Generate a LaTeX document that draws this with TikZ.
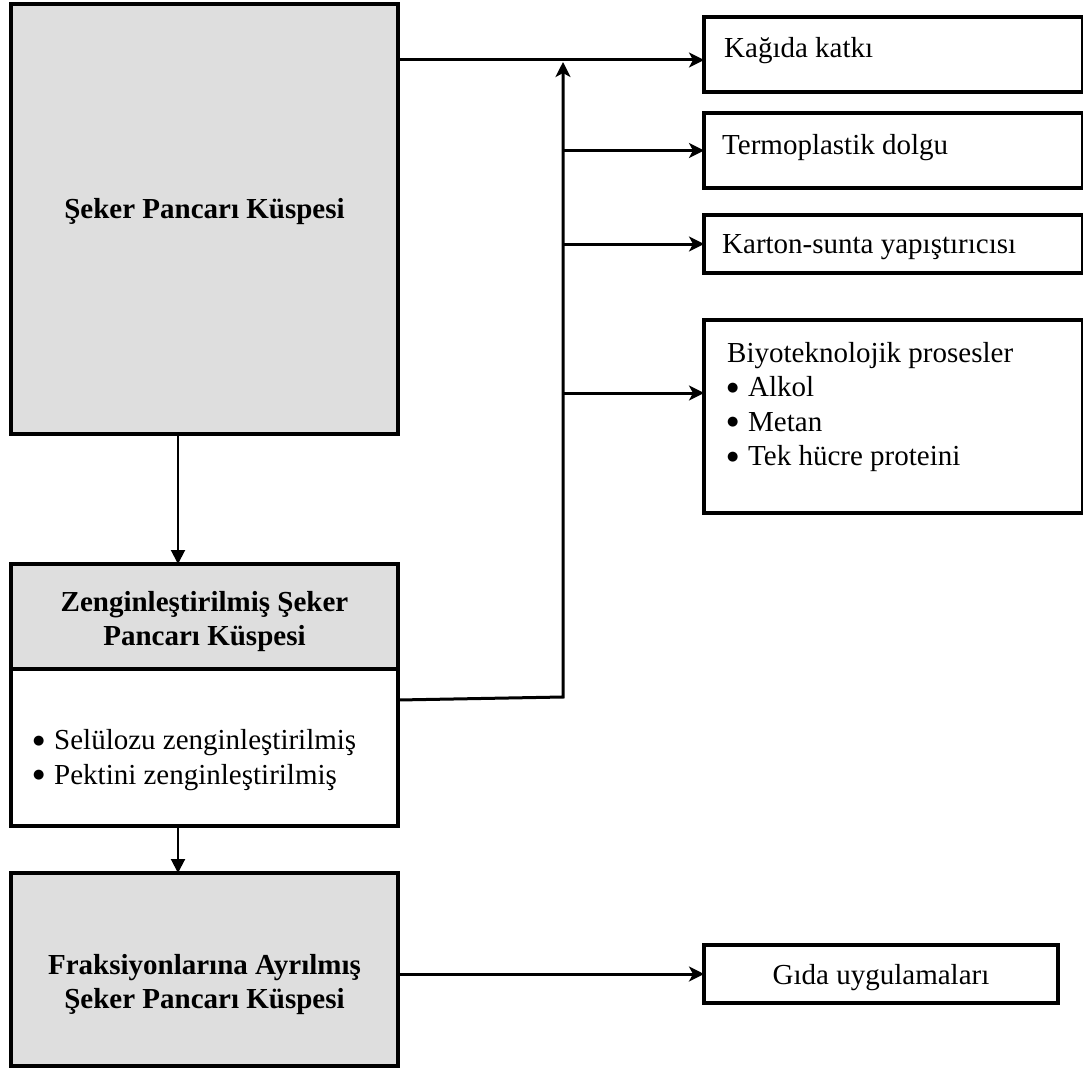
\documentclass[tikz,border=0pt]{standalone}
\usepackage{fontspec}
\setmainfont{Liberation Serif}
\newfontfamily\symfont{DejaVu Sans}
\usetikzlibrary{arrows.meta}
\definecolor{boxgray}{HTML}{DEDEDE}
\newcommand{\mybul}{\makebox[21pt][l]{\raisebox{5.5pt}{\symfont\fontsize{13}{13}\selectfont ●}}}
\begin{document}
\begin{tikzpicture}[x=1pt,y=-1pt,
  box/.style={draw, line width=4pt, inner sep=0pt, outer sep=0pt, anchor=north west},
  graybox/.style={box, fill=boxgray},
  txt/.style={inner sep=0pt, font=\fontsize{29}{34.5}\selectfont},
  btxt/.style={inner sep=0pt, font=\fontsize{29}{34}\selectfont\bfseries, align=center},
  harrow/.style={line width=3pt, -{Stealth[length=15pt,width=15pt,inset=4pt]}},
  varrow/.style={line width=2pt, -{Triangle[length=14pt,width=14pt]}}
]
\useasboundingbox (0,0) rectangle (1083,1070);

% left column
\node[graybox, minimum width=387pt, minimum height=430pt] (A) at (11,4) {};
\node[btxt, anchor=base] (At) at (204.5,218) {Şeker Pancarı Küspesi};

\node[graybox, minimum width=387pt, minimum height=105pt] (Bg) at (11,564) {};
\node[btxt] (Bt) at (204.5,622) {Zenginleştirilmiş Şeker\\Pancarı Küspesi};
\node[box, fill=white, minimum width=387pt, minimum height=157pt] (Bw) at (11,669) {};
\node[txt, anchor=west, align=left] (Bl) at (33,760)
  {\mybul Selülozu zenginleştirilmiş\\\mybul Pektini zenginleştirilmiş};

\node[graybox, minimum width=387pt, minimum height=193pt] (C) at (11,873) {};
\node[btxt] (Ct) at (204.5,985) {Fraksiyonlarına Ayrılmış\\Şeker Pancarı Küspesi};

% right column
\node[box, minimum width=379pt, minimum height=75pt] (K1) at (704,17) {};
\node[txt, anchor=base west] (K1t) at (724,58) {Kağıda katkı};

\node[box, minimum width=379pt, minimum height=75pt] (K2) at (704,113) {};
\node[txt, anchor=base west] (K2t) at (722,154) {Termoplastik dolgu};

\node[box, minimum width=379pt, minimum height=58pt] (K3) at (704,215) {};
\node[txt, anchor=base west] (K3t) at (722,253) {Karton-sunta yapıştırıcısı};

\node[box, minimum width=379pt, minimum height=193pt] (K4) at (704,320) {};
\node[txt, anchor=west, align=left] (K4t) at (727,407)
  {Biyoteknolojik prosesler\\\mybul Alkol\\\mybul Metan\\\mybul Tek hücre proteini};

\node[box, minimum width=354pt, minimum height=58pt] (G) at (704,945) {};
\node[txt, anchor=base] (Gt) at (881,984) {Gıda uygulamaları};

% helper coordinates
\coordinate (xa) at (178,0);
\coordinate (y60) at (0,60);
\coordinate (yts) at (0,700);
\coordinate (tb) at (563,697);
\coordinate (tt) at (563,62);
\coordinate (y393) at (0,393);

% connectors
\draw[varrow] (A.south -| xa) -- (Bg.north -| xa);
\draw[varrow] (Bw.south -| xa) -- (C.north -| xa);
\draw[harrow] (A.east |- y60) -- (K1.west |- y60);
\draw[harrow] (Bw.east |- yts) -- (tb) -- (tt);
\draw[harrow] (tb |- K2.west) -- (K2.west);
\draw[harrow] (tb |- K3.west) -- (K3.west);
\draw[harrow] (tb |- y393) -- (K4.west |- y393);
\draw[harrow] (C.east |- G.west) -- (G.west);
\end{tikzpicture}
\end{document}
